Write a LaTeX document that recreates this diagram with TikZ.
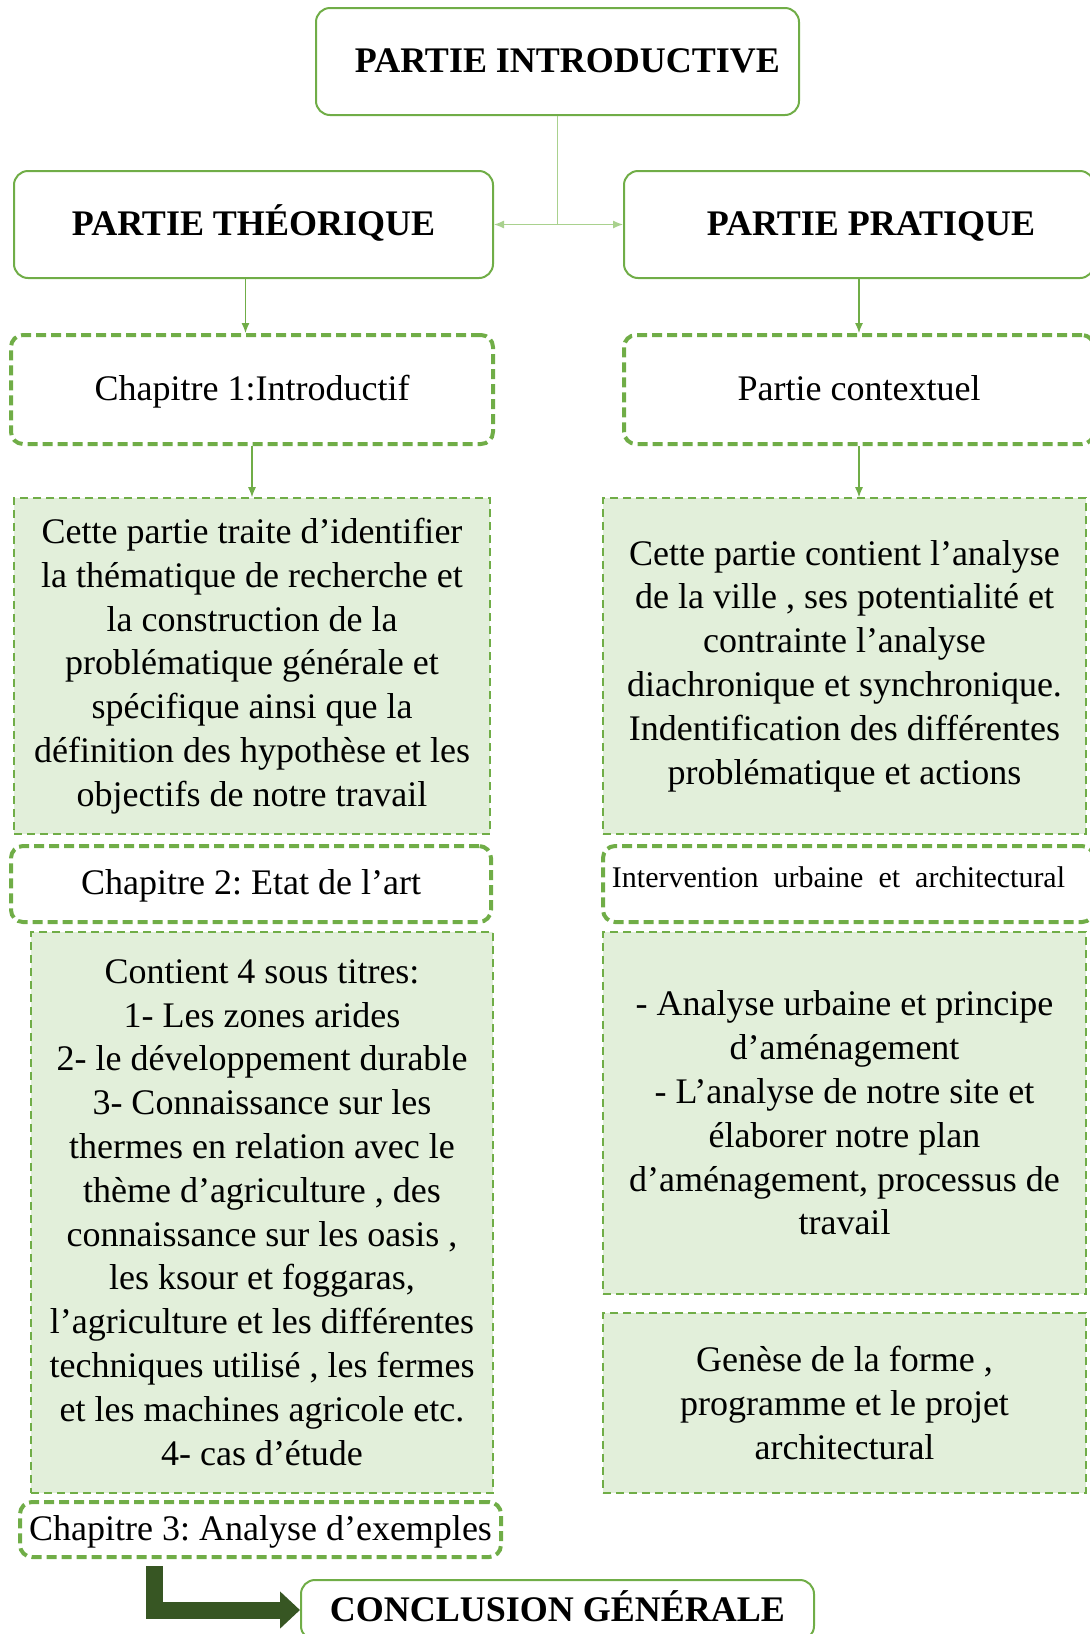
\documentclass[tikz,border=0pt]{standalone}
\usepackage{fontspec}
\setmainfont{Liberation Serif}
\usepackage{tikz}
\usetikzlibrary{calc,arrows.meta}
\definecolor{leaf}{HTML}{70AD47}
\definecolor{pale}{HTML}{E2EFDA}
\definecolor{light}{HTML}{A9D18E}
\definecolor{forest}{HTML}{375623}
\frenchspacing

\begin{document}
\begin{tikzpicture}[x=0.5pt,y=-0.5pt,
  txt/.style={font=\fontsize{18}{21.9}\selectfont, align=center, inner sep=0pt},
  head/.style={txt, draw=leaf, line width=1pt, rounded corners=7pt, text height=14pt, text depth=3pt,
    font=\fontsize{18}{21.9}\selectfont\bfseries},
  chap/.style={txt, draw=leaf, line width=2pt, dash pattern=on 5pt off 2.5pt, rounded corners=6pt,
    text height=14pt, text depth=3.5pt},
  info/.style={txt, draw=leaf, fill=pale, line width=0.8pt, dash pattern=on 4pt off 2.5pt},
  link/.style={draw=leaf, line width=0.6pt, -{Latex[length=5pt,width=4pt]}}]
\useasboundingbox (0,0) rectangle (1089,1634);

% titres
\node[head, minimum width=241.5pt, minimum height=53.5pt] (intro) at (557.5,61.5) {\hspace{10pt}PARTIE INTRODUCTIVE};
\node[head, minimum width=239.5pt, minimum height=53.5pt] (theo) at (253.5,224.5) {PARTIE THÉORIQUE};
\node[head, minimum width=235pt, minimum height=53.5pt] (prat) at (859,224.5) {\hspace{12pt}PARTIE PRATIQUE};

% chapitres
\node[chap, minimum width=241pt, minimum height=54.5pt] (chap1) at (252,389.5) {Chapitre 1:Introductif};
\node[chap, minimum width=235pt, minimum height=54.5pt] (ctx) at (859,389.5) {Partie contextuel};

\node[info, minimum width=238pt, minimum height=168pt] (desc1) at (252,666)
  {Cette partie traite d’identifier\\la thématique de recherche et\\la construction de la\\
   problématique générale et\\spécifique ainsi que la\\définition des hypothèse et les\\
   objectifs de notre travail};
\node[info, minimum width=241.5pt, minimum height=168pt] (desc2) at (844.5,666)
  {Cette partie contient l’analyse\\de la ville , ses potentialité et\\contrainte l’analyse\\
   diachronique et synchronique.\\Indentification des différentes\\problématique et actions};

\node[chap, minimum width=240pt, minimum height=38pt] (chap2) at (251,884) {Chapitre 2: Etat de l’art};
\node[chap, minimum width=245.5pt, minimum height=38pt, text height=11pt, text depth=8pt,
  font=\fontsize{15}{18}\selectfont] (interv) at (848.5,884)
  {Intervention\ \ urbaine\ \ et\ \ architectural\hspace{10pt}};

\node[info, minimum width=231pt, minimum height=280.5pt] (desc3) at (262,1212.5)
  {Contient 4 sous titres:\\1- Les zones arides\\2- le développement durable\\
   3- Connaissance sur les\\thermes en relation avec le\\thème d’agriculture , des\\
   connaissance sur les oasis ,\\les ksour et foggaras,\\l’agriculture et les différentes\\
   techniques utilisé , les fermes\\et les machines agricole etc.\\4- cas d’étude};
\node[info, minimum width=241.5pt, minimum height=181pt] (desc4) at (844.5,1113)
  {- Analyse urbaine et principe\\d’aménagement\\- L’analyse de notre site et\\
   élaborer notre plan\\d’aménagement, processus de\\travail};
\node[info, minimum width=241.5pt, minimum height=90pt] (desc5) at (844.5,1403)
  {Genèse de la forme ,\\programme et le projet\\architectural};

\node[chap, minimum width=240.5pt, minimum height=27.5pt] (chap3) at (260.5,1529.5) {Chapitre 3: Analyse d’exemples};
\node[head, minimum width=256.5pt, minimum height=30pt] (concl) at (557.5,1610) {CONCLUSION GÉNÉRALE};

% liaisons
\coordinate (fork) at (intro.south |- theo.east);
\draw[light, line width=0.6pt] (intro.south) -- (fork);
\draw[link, light] (fork) -- (theo.east);
\draw[link, light] (fork) -- (prat.west);
\draw[link] ([xshift=-4pt]theo.south) -- ([xshift=-4pt]theo.south |- chap1.north);
\draw[link] (prat.south) -- (ctx.north);
\draw[link] (chap1.south) -- (desc1.north);
\draw[link] (ctx.south) -- (ctx.south |- desc2.north);

\coordinate (stem) at (154,1566);
\draw[forest, line width=8.5pt, -{Triangle[length=10pt,width=18pt]}] (stem) |- (concl.west);
\end{tikzpicture}
\end{document}
